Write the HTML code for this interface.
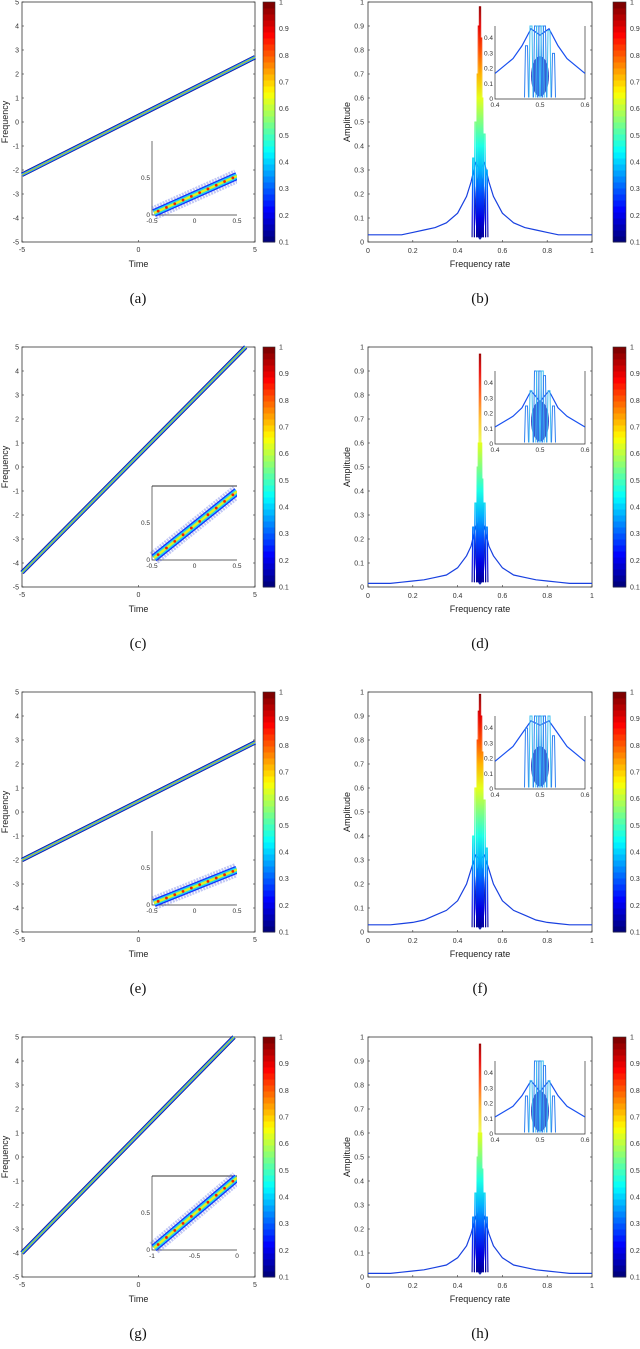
<!DOCTYPE html>
<html><head><meta charset="utf-8"><style>
html,body{margin:0;padding:0;background:#fff;}
svg{display:block;font-family:"Liberation Sans",sans-serif;}
</style></head><body>
<svg id="fig" width="640" height="1349" viewBox="0 0 640 1349">
<defs id="defs"></defs>
</svg>
<script>
// ---- data ----
const panelLabels = ["(a)","(b)","(c)","(d)","(e)","(f)","(g)","(h)"];
// left panels: chirp line start/end (time, frequency)
const lineT0 = [-5,-5,-5,-5];
const lineF0 = [-2.2,-4.4,-2.0,-4.0];
const lineT1 = [5,4.6,5,4.1];
const lineF1 = [2.7,5,2.9,5];
const insetXTicks = [["-0.5","0","0.5"],["-0.5","0","0.5"],["-0.5","0","0.5"],["-1","-0.5","0"]];
const insetSlope = [0.5,0.9,0.45,0.95];
const yTicksLeft = [-5,-4,-3,-2,-1,0,1,2,3,4,5];
const xTicksLeft = [-5,0,5];
const cbTicks = [0.1,0.2,0.3,0.4,0.5,0.6,0.7,0.8,0.9,1];
// right panels: spectrum envelope
const specX = [0,0.1,0.15,0.2,0.25,0.3,0.35,0.4,0.44,0.46,0.48,0.5,0.52,0.54,0.56,0.6,0.65,0.7,0.75,0.8,0.85,0.9,1];
const specY = [[0.03,0.03,0.03,0.04,0.05,0.06,0.08,0.12,0.19,0.25,0.33,0.3,0.33,0.25,0.19,0.12,0.08,0.06,0.05,0.04,0.03,0.03,0.03],
[0.015,0.015,0.02,0.025,0.03,0.04,0.05,0.08,0.13,0.17,0.25,0.2,0.25,0.17,0.13,0.08,0.05,0.04,0.03,0.025,0.02,0.015,0.015],
[0.03,0.03,0.035,0.04,0.05,0.07,0.09,0.13,0.2,0.26,0.32,0.3,0.32,0.26,0.2,0.13,0.09,0.07,0.05,0.04,0.035,0.03,0.03],
[0.015,0.015,0.02,0.025,0.03,0.04,0.05,0.08,0.13,0.18,0.25,0.2,0.25,0.18,0.13,0.08,0.05,0.04,0.03,0.025,0.02,0.015,0.015]];
const peakX = [0.47,0.48,0.49,0.495,0.5,0.505,0.51,0.52,0.53];
const peakH = [[0.35,0.5,0.7,0.9,0.98,0.85,0.6,0.45,0.3],[0.25,0.35,0.5,0.6,0.97,0.6,0.45,0.35,0.25],[0.4,0.6,0.8,0.92,0.99,0.9,0.75,0.55,0.35],[0.25,0.35,0.5,0.6,0.97,0.6,0.45,0.35,0.25]];
const yTicksRight = [0,0.1,0.2,0.3,0.4,0.5,0.6,0.7,0.8,0.9,1];
const xTicksRight = [0,0.2,0.4,0.6,0.8,1];
const insetRX = [["0.4","0.5","0.6"],["0.4","0.5","0.6"],["0.4","0.5","0.6"],["0.4","0.5","0.6"]];

const svg = document.getElementById('fig');
const defs = document.getElementById('defs');
const NS = "http://www.w3.org/2000/svg";
function mk(tag, attrs, parent, text){
  const e = document.createElementNS(NS, tag);
  for (const k in attrs) e.setAttribute(k, attrs[k]);
  if (text !== undefined) e.textContent = text;
  (parent||svg).appendChild(e);
  return e;
}
function jet(v){
  const r = Math.max(0,Math.min(1,1.5-Math.abs(4*v-3)));
  const g = Math.max(0,Math.min(1,1.5-Math.abs(4*v-2)));
  const b = Math.max(0,Math.min(1,1.5-Math.abs(4*v-1)));
  return `rgb(${Math.round(r*255)},${Math.round(g*255)},${Math.round(b*255)})`;
}
function colorbar(g, x, top, w, h, labX){
  const n = 40;
  for (let i=0;i<n;i++){
    mk('rect',{x:x,y:top+h-(i+1)*h/n,width:w,height:h/n+0.5,fill:jet(i/(n-1))},g);
  }
  mk('rect',{x:x,y:top,width:w,height:h,fill:'none',stroke:'#333','stroke-width':0.6},g);
  cbTicks.forEach(t=>{
    const y = top + h - (t-0.1)/0.9*h;
    const lt = mk('text',{x:labX,y:y+2.5,'font-size':7,fill:'#333'},g, t===1?'1':t.toFixed(1));
    
    
  });
}

for (let r=0;r<4;r++){
  const top = 2 + r*345, H = 240, bot = top+H;
  // gradient for this row
  const gr = mk('linearGradient',{id:'jet'+r,gradientUnits:'userSpaceOnUse',x1:0,y1:bot,x2:0,y2:top},defs);
  for (let i=0;i<=10;i++) mk('stop',{offset:i/10,'stop-color':jet(i/10)},gr);

  // ---------- left panel ----------
  const gL = mk('g',{});
  
  
  const L=22, R=255;
  const sx = t => L + (t+5)/10*(R-L);
  const sy = f => bot - (f+5)/10*H;
  mk('rect',{x:L,y:top,width:R-L,height:H,fill:'#fff',stroke:'#333','stroke-width':0.8},gL);
  yTicksLeft.forEach(v=>{
    const y=sy(v);
    mk('line',{x1:L,y1:y,x2:L+2,y2:y,stroke:'#333','stroke-width':0.6},gL);
    mk('line',{x1:R-2,y1:y,x2:R,y2:y,stroke:'#333','stroke-width':0.6},gL);
    mk('text',{x:L-3,y:y+2.5,'font-size':7,'text-anchor':'end',fill:'#333'},gL,String(v));
  });
  xTicksLeft.forEach(v=>{
    const x=sx(v);
    mk('line',{x1:x,y1:bot,x2:x,y2:bot-2,stroke:'#333','stroke-width':0.6},gL);
    mk('text',{x:x,y:bot+10,'font-size':7,'text-anchor':'middle',fill:'#333'},gL,String(v));
  });
  const xl = mk('text',{x:(L+R)/2,y:bot+25,'font-size':9,'text-anchor':'middle',fill:'#222'},gL,'Time');
  
  
  const yl = mk('text',{x:0,y:0,'font-size':9,'text-anchor':'middle',fill:'#222',transform:`translate(8,${(top+bot)/2}) rotate(-90)`},gL,'Frequency');
  
  
  const x0=sx(lineT0[r]), y0=sy(lineF0[r]), x1=sx(lineT1[r]), y1=sy(lineF1[r]);
  [[4.5,'#14148c'],[3.2,'#2050ff'],[2,'#20d8e8'],[1,'#b0e030'],[0.4,'#ff7000']].forEach(([w,c])=>{
    const ln = mk('line',{x1:x0,y1:y0,x2:x1,y2:y1,stroke:c,'stroke-width':w},gL);
    
    
  });
  // inset
  const iL=152, iR=237, iT=top+139, iB=top+213;
  const gi = mk('g',{},gL);
  
  
  mk('rect',{x:iL,y:iT,width:iR-iL,height:iB-iT,fill:'#fff'},gi);
  mk('polyline',{points:`${iL},${iT} ${iL},${iB} ${iR},${iB}`,fill:'none',stroke:'#333','stroke-width':0.7},gi);
  if (r%2===1) mk('line',{x1:iL,y1:iT,x2:iR,y2:iT,stroke:'#333','stroke-width':0.9},gi);
  const s = insetSlope[r];
  const ax0=iL+2, ay0=iB-2, ax1=iR, ay1=iB-2-s*(iB-iT);
  [[14,'#5060e0',0.35],[8,'#1030ff',1],[5.5,'#20d0f0',1],[2.6,'#e0f020',1]].forEach(([w,c,o])=>{
    mk('line',{x1:ax0,y1:ay0,x2:ax1,y2:ay1,stroke:c,'stroke-width':w,opacity:o,'stroke-dasharray':o<1?'2 1':'none'},gi);
  });
  for (let k=0;k<10;k++){
    const f=(k+0.5)/10;
    mk('circle',{cx:ax0+f*(ax1-ax0),cy:ay0+f*(ay1-ay0),r:1.4,fill:'#f02000'},gi);
  }
  mk('rect',{x:iR,y:iT-5,width:8,height:iB-iT+10,fill:'#fff'},gi);
  mk('text',{x:iL-2,y:iB+2,'font-size':6.5,'text-anchor':'end',fill:'#333'},gi,'0');
  mk('text',{x:iL-2,y:iB-(iB-iT)*0.5+2,'font-size':6.5,'text-anchor':'end',fill:'#333'},gi,'0.5');
  insetXTicks[r].forEach((t,k)=>{
    mk('text',{x:iL+k*(iR-iL)/2,y:iB+8,'font-size':6.5,'text-anchor':'middle',fill:'#333'},gi,t);
  });
  const cbL = mk('g',{},gL);
  
  
  colorbar(cbL,263,top,12,H,279);
  const cap1 = mk('text',{x:138,y:top+301,'font-size':15,'text-anchor':'middle','font-family':'Liberation Serif, serif',fill:'#111'},svg,panelLabels[2*r]);
  
  

  // ---------- right panel ----------
  const gR = mk('g',{});
  
  
  const RL=368, RR=592;
  const px = v => RL + v*(RR-RL);
  const py = v => bot - v*H;
  mk('rect',{x:RL,y:top,width:RR-RL,height:H,fill:'#fff',stroke:'#333','stroke-width':0.8},gR);
  yTicksRight.forEach(v=>{
    const y=py(v);
    mk('line',{x1:RL,y1:y,x2:RL+2,y2:y,stroke:'#333','stroke-width':0.6},gR);
    mk('line',{x1:RR-2,y1:y,x2:RR,y2:y,stroke:'#333','stroke-width':0.6},gR);
    mk('text',{x:RL-4,y:y+2.5,'font-size':7,'text-anchor':'end',fill:'#333'},gR,v===0||v===1?String(v):v.toFixed(1));
  });
  xTicksRight.forEach(v=>{
    const x=px(v);
    mk('line',{x1:x,y1:bot,x2:x,y2:bot-2,stroke:'#333','stroke-width':0.6},gR);
    mk('text',{x:x,y:bot+11,'font-size':7,'text-anchor':'middle',fill:'#333'},gR,v===0||v===1?String(v):v.toFixed(1));
  });
  const xr = mk('text',{x:(RL+RR)/2,y:bot+25,'font-size':9,'text-anchor':'middle',fill:'#222'},gR,'Frequency rate');
  
  
  const yr = mk('text',{x:0,y:0,'font-size':9,'text-anchor':'middle',fill:'#222',transform:`translate(350,${(top+bot)/2}) rotate(-90)`},gR,'Amplitude');
  
  
  const env = mk('polyline',{points:specX.map((v,i)=>px(v)+','+py(specY[r][i])).join(' '),fill:'none',stroke:'#1840e0','stroke-width':1.2},gR);
  
  
  mk('ellipse',{cx:px(0.5),cy:py(0.15),rx:5,ry:H*0.14,fill:'#1828b0'},gR);
  peakX.forEach((v,i)=>{
    const pk = mk('polyline',{points:`${px(v)-1.2},${py(0.02)} ${px(v)-0.6},${py(peakH[r][i])} ${px(v)+0.6},${py(peakH[r][i])} ${px(v)+1.2},${py(0.02)}`,fill:'none',stroke:'url(#jet'+r+')','stroke-width':1.1},gR);
    
    
  });
  // inset
  const jL=495, jR=585, jT=top+24, jB=top+97;
  const gj = mk('g',{},gR);
  
  
  mk('rect',{x:jL,y:jT,width:jR-jL,height:jB-jT,fill:'#fff'},gj);
  mk('polyline',{points:`${jL},${jT} ${jL},${jB} ${jR},${jB} ${jR},${jT}`,fill:'none',stroke:'#333','stroke-width':0.7},gj);
  const ix = v => jL + (v-0.4)/0.2*(jR-jL);
  const iy = v => jB - v/0.48*(jB-jT);
  const envIn = specX.map((v,i)=>[v,specY[r][i]]).filter(p=>p[0]>=0.4&&p[0]<=0.6);
  mk('polyline',{points:envIn.map(p=>ix(p[0])+','+iy(Math.min(p[1]*1.4,0.48))).join(' '),fill:'none',stroke:'#1850f0','stroke-width':1.2},gj);
  mk('ellipse',{cx:ix(0.5),cy:iy(0.15),rx:9,ry:20,fill:'#1830c0',opacity:0.85},gj);
  peakX.forEach((v,i)=>{
    const h=Math.min(peakH[r][i],0.48);
    mk('polyline',{points:`${ix(v)-2},${iy(0.01)} ${ix(v)-1},${iy(h)} ${ix(v)+1},${iy(h)} ${ix(v)+2},${iy(0.01)}`,fill:'none',stroke:i%2?'#40c0f0':'#3080f0','stroke-width':1},gj);
  });
  [0.1,0.2,0.3,0.4].forEach(v=>mk('text',{x:jL-2,y:iy(v)+2,'font-size':6.5,'text-anchor':'end',fill:'#333'},gj,v.toFixed(1)));
  mk('text',{x:jL-2,y:jB+2,'font-size':6.5,'text-anchor':'end',fill:'#333'},gj,'0');
  insetRX[r].forEach((t,k)=>mk('text',{x:jL+k*(jR-jL)/2,y:jB+8,'font-size':6.5,'text-anchor':'middle',fill:'#333'},gj,t));
  const cbR = mk('g',{},gR);
  
  
  colorbar(cbR,613,top,13,H,630);
  const cap2 = mk('text',{x:480,y:top+301,'font-size':15,'text-anchor':'middle','font-family':'Liberation Serif, serif',fill:'#111'},svg,panelLabels[2*r+1]);
  
  
}
</script>
</body></html>
